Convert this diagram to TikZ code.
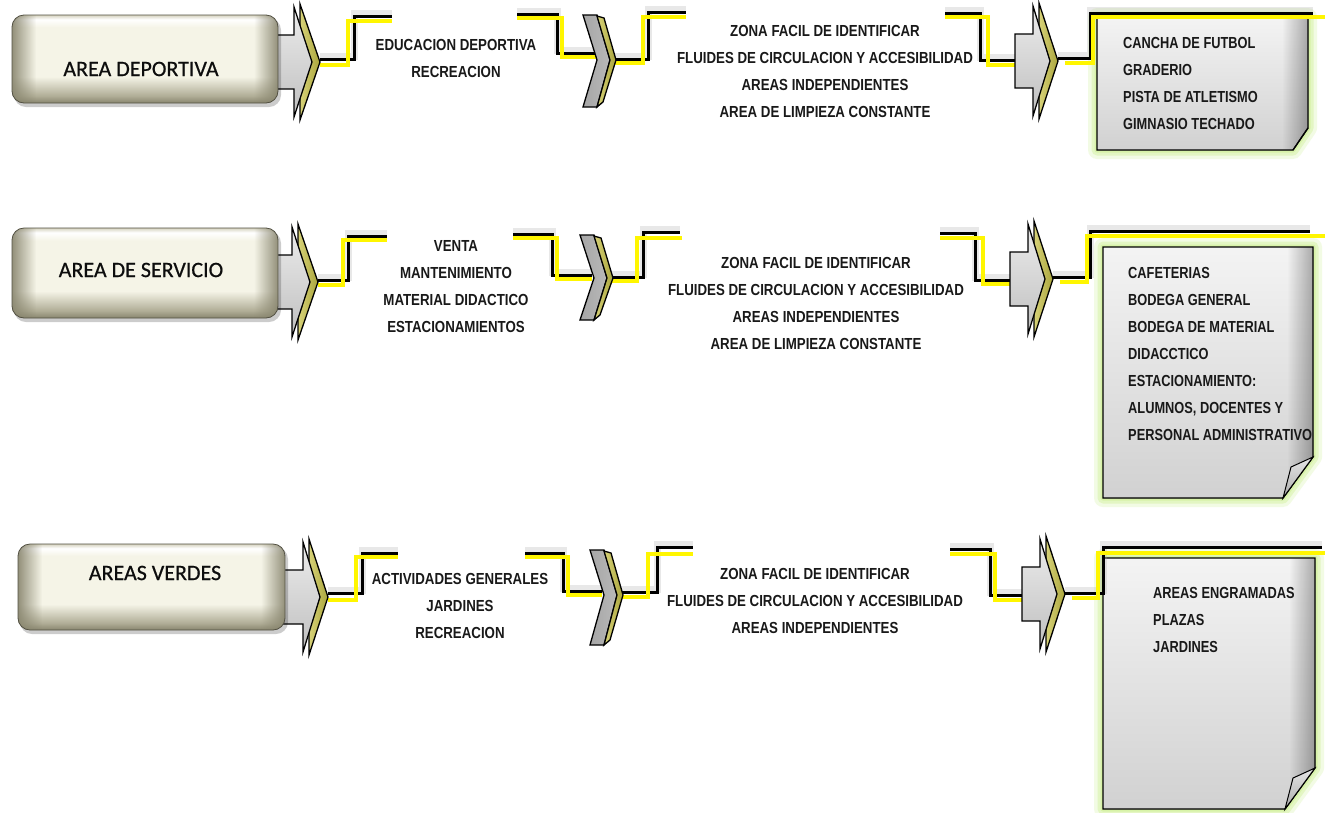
\documentclass[tikz,border=0pt]{standalone}
\usepackage{fontspec}
\setmainfont{Liberation Sans}
\newfontfamily\midfont{Liberation Sans}[FakeStretch=0.83]
\newfontfamily\notefont{Liberation Sans}[FakeStretch=0.80]
\newfontfamily\titlefont{Carlito}[FakeBold=0.6]
\usetikzlibrary{shadows,fadings}
\definecolor{lnyellow}{RGB}{255,246,0}
\definecolor{olivey}{RGB}{170,165,60}
\definecolor{olivel}{RGB}{215,210,120}
\definecolor{glowg}{RGB}{215,242,168}
\definecolor{boxin}{RGB}{245,244,231}
\definecolor{boxmid}{RGB}{214,211,192}
\definecolor{boxlow}{RGB}{176,173,150}
\definecolor{boxout}{RGB}{136,133,110}
\pgfdeclareverticalshading{boxv}{100bp}{color(0bp)=(boxout); color(25bp)=(boxout);
  color(29bp)=(boxlow); color(40bp)=(boxin); color(68bp)=(boxin); color(72.5bp)=(white);
  color(75bp)=(boxmid); color(100bp)=(boxmid)}
\tikzset{
  blk/.style={draw=black, line width=3pt,
    preaction={draw=black!35, line width=7pt, opacity=0.25, transform canvas={yshift=3pt}}},
  ylw/.style={draw=lnyellow, line width=3.4pt},
  titletxt/.style={font={\titlefont\fontsize{22}{22}\selectfont}, text=black!95, inner sep=0pt},
  midtxt/.style={font={\midfont\bfseries\fontsize{16}{27}\selectfont}, align=center, text=black!90, inner sep=0pt},
  notetxt/.style={font={\notefont\bfseries\fontsize{16}{27}\selectfont}, align=left, anchor=west, text=black!90, inner sep=0pt},
}
% name, x1, y1, x2, y2
\newcommand{\tbox}[5]{%
  \fill[black, opacity=0.2, rounded corners=12pt] ({#2+2},{#3+3}) rectangle ({#4+3},{#5+4});
  \path[rounded corners=12pt, shading=boxv] (#2,#3) rectangle (#4,#5);
  \begin{scope}
    \clip[rounded corners=12pt] (#2,#3) rectangle (#4,#5);
    \fill[boxout, path fading=east, opacity=0.9] (#2,#3) rectangle ({#2+24},#5);
    \fill[boxout, path fading=west, opacity=0.9] ({#4-24},#3) rectangle (#4,#5);
  \end{scope}
  \draw[boxout!60!black, line width=0.8pt, rounded corners=12pt] (#2,#3) rectangle (#4,#5);
  \coordinate (#1) at ({(#2+#4)/2},{(#3+#5)/2});
}
% name, L, B, T, C
\newcommand{\dblarrow}[5]{%
  \path[draw=black, line width=1.3pt, left color=olivel, right color=olivey]
    ({#3+6},{#5-58}) -- (#4,#5) -- ({#3+6},{#5+58}) -- cycle;
  \path[draw=black, line width=1.3pt, top color=gray!15, middle color=white, bottom color=gray!50]
    (#2,{#5-27}) -- (#3,{#5-27}) -- (#3,{#5-55}) -- ({#4-8},#5) -- (#3,{#5+55})
    -- (#3,{#5+27}) -- (#2,{#5+27}) -- cycle;
  \coordinate (#1) at (#4,#5);
}
% name, X0, Y0, Y1, Ym
\newcommand{\chev}[5]{%
  \path[draw=black, line width=1.3pt, left color=gray!70, middle color=gray!25, right color=gray!55]
    (#2,#3) -- ({#2+14},#3) -- ({#2+27},#5) -- ({#2+14},#4) -- (#2,#4) -- ({#2+14},#5) -- cycle;
  \path[draw=black, line width=1.3pt, left color=olivel, right color=olivey]
    ({#2+14},{#3+1}) -- ({#2+21},{#3+3}) -- ({#2+33},#5) -- ({#2+20},{#4-5}) -- ({#2+14},#4) -- ({#2+27},#5) -- cycle;
  \coordinate (#1) at ({#2+33},#5);
}
% name, x1, y1, x2, y2, fw, fh
\newcommand{\notebox}[7]{%
  \def\notepath{(#2,#3) -- (#4,#3) -- (#4,{#5-#7}) -- ({#4-#6},#5) -- (#2,#5) -- cycle}
  \draw[glowg, line width=18pt, opacity=0.3, line join=round] \notepath;
  \draw[glowg, line width=11pt, opacity=0.55, line join=round] \notepath;
  \draw[glowg, line width=5pt, line join=round] \notepath;
  \fill[top color=gray!9, bottom color=gray!36] \notepath;
  \begin{scope}
    \clip \notepath;
    \fill[black, opacity=0.3, path fading=west] ({#4-26},#3) rectangle (#4,#5);
  \end{scope}
  \draw[black, line width=1.4pt] \notepath;
  \path[draw=black, line width=1pt, top color=gray!20, bottom color=gray!65]
    ({#4-#6},#5) -- (#4,{#5-#7}) -- ({#4-#6+8},{#5-#7+10}) -- cycle;
  \coordinate (#1) at (#2,#3);
}
\begin{document}
\begin{tikzpicture}[x=1pt, y=-1pt]
\useasboundingbox (0,0) rectangle (1325,812);
\fill[white] (0,0) rectangle (1325,812);

% ---------- notes ----------
\notebox{n1}{1097}{17}{1308}{150}{15}{22}
\notebox{n2}{1103}{247}{1313}{498}{30}{41}
\notebox{n3}{1103}{558}{1315}{809}{30}{41}

% ---------- connectors row 1 ----------
\draw[blk] (320,59) -- (354,59) -- (354,16) -- (392,16);
\draw[ylw] (320,65) -- (348,65) -- (348,21) -- (392,21);
\draw[blk] (517,14) -- (557,14) -- (557,53) -- (598,53);
\draw[ylw] (517,18) -- (562,18) -- (562,57) -- (598,57);
\draw[blk] (610,59) -- (648,59) -- (648,12) -- (686,12);
\draw[ylw] (612,63) -- (643,63) -- (643,17) -- (686,17);
\draw[blk] (945,13) -- (980,13) -- (980,60) -- (1020,60);
\draw[ylw] (945,17) -- (988,17) -- (988,65) -- (1020,65);
\draw[blk] (1058,58) -- (1090,58) -- (1090,13) -- (1313,13);
\draw[ylw] (1065,63) -- (1093,63) -- (1093,17) -- (1325,17);

% ---------- connectors row 2 ----------
\draw[blk] (318,280) -- (348,280) -- (348,236) -- (387,236);
\draw[ylw] (318,285) -- (343,285) -- (343,240) -- (387,240);
\draw[blk] (513,234) -- (552,234) -- (552,275) -- (592,275);
\draw[ylw] (513,238) -- (557,238) -- (557,279) -- (592,279);
\draw[blk] (605,277) -- (643,277) -- (643,232) -- (680,232);
\draw[ylw] (608,281) -- (637,281) -- (637,238) -- (682,238);
\draw[blk] (940,233) -- (975,233) -- (975,280) -- (1012,280);
\draw[ylw] (940,238) -- (983,238) -- (983,284) -- (1012,284);
\draw[blk] (1053,277) -- (1090,277) -- (1090,231) -- (1310,231);
\draw[ylw] (1060,282) -- (1087,282) -- (1087,236) -- (1325,236);

% ---------- connectors row 3 ----------
\draw[blk] (328,593) -- (362,593) -- (362,553) -- (398,553);
\draw[ylw] (328,600) -- (356,600) -- (356,557) -- (398,557);
\draw[blk] (525,553) -- (563,553) -- (563,591) -- (602,591);
\draw[ylw] (525,557) -- (568,557) -- (568,595) -- (602,595);
\draw[blk] (618,592) -- (657,592) -- (657,547) -- (693,547);
\draw[ylw] (622,597) -- (648,597) -- (648,554) -- (693,554);
\draw[blk] (950,549) -- (990,549) -- (990,595) -- (1024,595);
\draw[ylw] (950,554) -- (995,554) -- (995,600) -- (1024,600);
\draw[blk] (1065,593) -- (1103,593) -- (1103,547) -- (1322,547);
\draw[ylw] (1072,598) -- (1098,598) -- (1098,553) -- (1325,553);

% ---------- arrows and chevrons ----------
\dblarrow{ar1a}{272}{294}{320}{62}
\dblarrow{ar2a}{272}{292}{318}{282}
\dblarrow{ar3a}{279}{303}{328}{597}
\dblarrow{ar1b}{1015}{1033}{1058}{61}
\dblarrow{ar2b}{1010}{1028}{1053}{279}
\dblarrow{ar3b}{1022}{1040}{1065}{594}
\chev{ch1}{583}{15}{107}{60}
\chev{ch2}{580}{235}{320}{278}
\chev{ch3}{590}{550}{645}{595}

% ---------- title boxes ----------
\tbox{t1}{12}{15}{278}{103}
\tbox{t2}{12}{228}{278}{318}
\tbox{t3}{18}{544}{285}{630}
\node[titletxt] (t1t) at (141,69) {AREA DEPORTIVA};
\node[titletxt] (t2t) at (141,270) {AREA DE SERVICIO};
\node[titletxt] (t3t) at (155,573) {AREAS VERDES};

% ---------- middle texts ----------
\node[midtxt] (a1) at (456,58.5) {EDUCACION DEPORTIVA\\RECREACION};
\node[midtxt] (a2) at (456,286.5) {VENTA\\MANTENIMIENTO\\MATERIAL DIDACTICO\\ESTACIONAMIENTOS};
\node[midtxt] (a3) at (460,606) {ACTIVIDADES GENERALES\\JARDINES\\RECREACION};
\node[midtxt] (c1) at (825,71.5) {ZONA FACIL DE IDENTIFICAR\\FLUIDES DE CIRCULACION Y ACCESIBILIDAD\\AREAS INDEPENDIENTES\\AREA DE LIMPIEZA CONSTANTE};
\node[midtxt] (c2) at (816,303.5) {ZONA FACIL DE IDENTIFICAR\\FLUIDES DE CIRCULACION Y ACCESIBILIDAD\\AREAS INDEPENDIENTES\\AREA DE LIMPIEZA CONSTANTE};
\node[midtxt] (c3) at (815,600.5) {ZONA FACIL DE IDENTIFICAR\\FLUIDES DE CIRCULACION Y ACCESIBILIDAD\\AREAS INDEPENDIENTES};

% ---------- note texts ----------
\node[notetxt] (n1t) at (1123,83.5) {CANCHA DE FUTBOL\\GRADERIO\\PISTA DE ATLETISMO\\GIMNASIO TECHADO};
\node[notetxt] (n2t) at (1128,353.5) {CAFETERIAS\\BODEGA GENERAL\\BODEGA DE MATERIAL\\DIDACCTICO\\ESTACIONAMIENTO:\\ALUMNOS, DOCENTES Y\\PERSONAL ADMINISTRATIVO};
\node[notetxt] (n3t) at (1153,619.5) {AREAS ENGRAMADAS\\PLAZAS\\JARDINES};
\end{tikzpicture}
\end{document}
